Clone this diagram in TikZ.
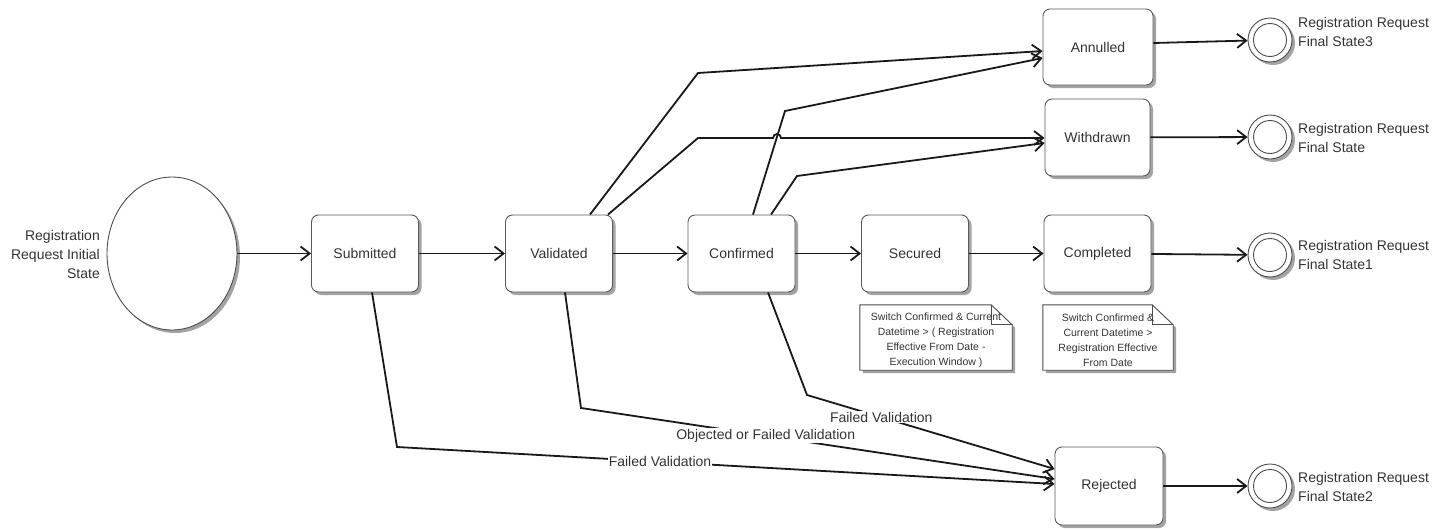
\documentclass[tikz,border=0pt]{standalone}
\usepackage{fontspec}
\setmainfont{Liberation Sans}
\usetikzlibrary{arrows.meta,calc,shapes.geometric,shadows}
\begin{document}
\begin{tikzpicture}[x=1pt,y=-1pt,
  txt/.style={text=black!80, font=\fontsize{14}{19}\selectfont},
  shad/.style={drop shadow={shadow xshift=3pt,shadow yshift=-3pt,fill=black!45,opacity=0.8}},
  stbox/.style={draw=black!65, line width=0.9pt, rounded corners=7pt, fill=white,
    minimum width=107pt, minimum height=77pt, inner sep=0pt, txt, shad},
  initst/.style={ellipse, draw=black!70, line width=0.9pt, fill=white,
    minimum width=130pt, minimum height=153pt, shad},
  finalst/.style={circle, draw=black!70, line width=0.9pt, fill=white, minimum size=44pt, inner sep=0pt, shad,
    path picture={\draw[black!70,line width=0.9pt] (path picture bounding box.center) circle (16.5pt);}},
  flabel/.style={txt, anchor=west, align=left, inner sep=0pt},
  conn/.style={line width=1.8pt, black!90, -{Straight Barb[length=9pt,width=14pt]}},
  clabel/.style={txt, fill=white, inner sep=1pt},
  notebox/.style={minimum height=65pt, inner sep=0pt},
  notetxt/.style={text=black!80, font=\fontsize{10.5}{15}\selectfont, align=center, inner sep=0pt},
  notedraw/.style={draw=black!70, line width=0.9pt, fill=white, shad},
]
\useasboundingbox (0,0) rectangle (1433,530);

% states
\node[initst] (init) at (172,253.5) {};
\node[txt, anchor=east, align=right, inner sep=0pt] (initlab) at (100,254) {Registration\\Request Initial\\State};

\node[stbox] (sub) at (365,253.5) {Submitted};
\node[stbox] (val) at (559,253.5) {Validated};
\node[stbox] (conf) at (741.5,253.5) {Confirmed};
\node[stbox] (sec) at (915,253.5) {Secured};
\node[stbox] (comp) at (1097.5,253.5) {Completed};
\node[stbox, minimum width=110pt, minimum height=76pt] (ann) at (1098,47) {Annulled};
\node[stbox, minimum width=105pt] (wd) at (1097.5,137.5) {Withdrawn};
\node[stbox, minimum width=108pt, minimum height=78pt] (rej) at (1109,486) {Rejected};

% final states
\node[finalst] (f3) at (1270,40) {};
\node[finalst] (f0) at (1270,137) {};
\node[finalst] (f1) at (1270,255) {};
\node[finalst] (f2) at (1270,486) {};
\node[flabel] (l3) at (1298,32) {Registration Request\\Final State3};
\node[flabel] (l0) at (1298,137.5) {Registration Request\\Final State};
\node[flabel] (l1) at (1298,255) {Registration Request\\Final State1};
\node[flabel] (l2) at (1298,487) {Registration Request\\Final State2};

% notes
\node[notebox, minimum width=152pt] (n1) at (936,337.5) {};
\node[notebox, minimum width=130pt] (n2) at (1108,337.5) {};
\foreach \n in {n1,n2}{
  \path[notedraw] (\n.south west) -- (\n.north west) -- ([xshift=-21pt]\n.north east)
     -- ([yshift=-20pt]\n.north east) -- (\n.south east) -- cycle;
  \draw[black!70, line width=0.9pt] ([xshift=-21pt]\n.north east) -- ([xshift=-21pt,yshift=-20pt]\n.north east)
     -- ([yshift=-20pt]\n.north east);
}
\node[notetxt] (t1) at ([yshift=-3pt]n1.center) {Switch Confirmed \& Current\\Datetime > ( Registration\\Effective From Date -\\Execution Window )};
\node[notetxt] (t2) at ([yshift=-3pt]n2.center) {Switch Confirmed \&\\Current Datetime >\\Registration Effective\\From Date};

% main flow
\draw[conn] (init) -- (sub);
\draw[conn] (sub) -- (val);
\draw[conn] (val) -- (conf);
\draw[conn] (conf) -- (sec);
\draw[conn] (sec) -- (comp);
\draw[conn] (comp) -- (f1);
\draw[conn] ([yshift=4pt]ann.east) -- (f3);
\draw[conn] (wd) -- (f0);
\draw[conn] (rej) -- (f2);

% to Annulled / Withdrawn
\draw[conn] ([xshift=31pt]val.north) -- (698,73) -- ([yshift=-4pt]ann.west);
\draw[conn] ([xshift=11.5pt]conf.north) -- (785,111) -- ([yshift=-11pt]ann.west);
\draw[conn] ([xshift=49pt]val.north) -- (698,138) -- (773,138) arc (180:360:4) -- ([yshift=-0.5pt]wd.west);
\draw[conn] ([xshift=29.5pt]conf.north) -- (797,176) -- ([yshift=-5.5pt]wd.west);

% to Rejected
\draw[conn] ([xshift=7pt]sub.south) -- (397,447) -- node[clabel, pos=0.4] (lb1) {Failed Validation} ([yshift=2pt]rej.west);
\draw[conn] ([xshift=6pt]val.south) -- (581,408) -- node[clabel, pos=0.39] (lb2) {Objected or Failed Validation} ([yshift=7pt]rej.west);
\draw[conn] ([xshift=26.5pt]conf.south) -- (807,395) -- node[clabel, pos=0.3] (lb3) {Failed Validation} ([yshift=17pt]rej.west);
\end{tikzpicture}
\end{document}
